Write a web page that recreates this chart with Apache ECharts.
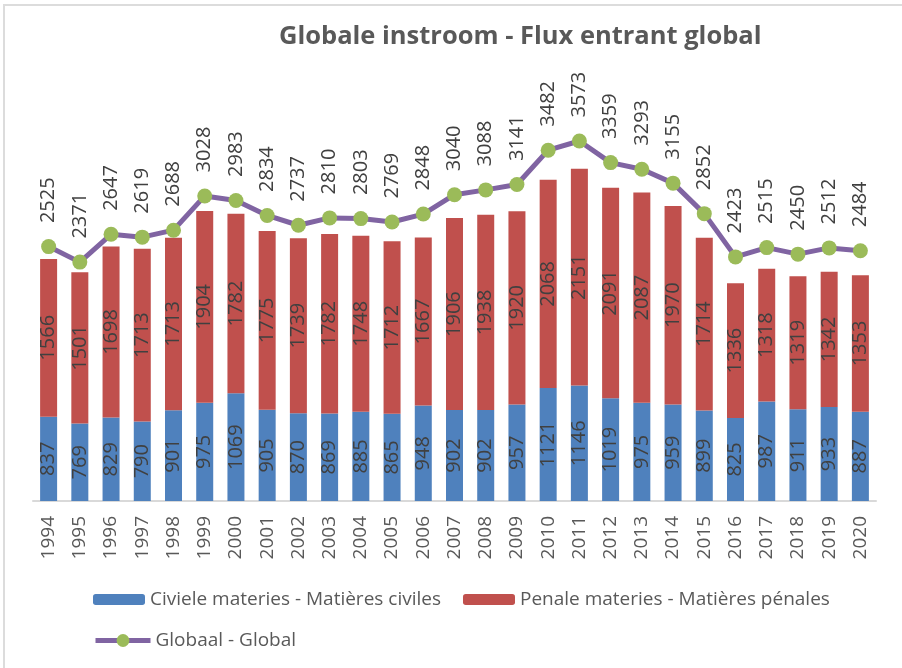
<!DOCTYPE html>
<html>
<head>
<meta charset="utf-8">
<title>Globale instroom - Flux entrant global</title>
<script src="https://cdn.jsdelivr.net/npm/echarts@6/dist/echarts.min.js"></script>
<style>
    html, body { margin: 0; padding: 0; background: #fff; }
    #chart { width: 902px; height: 668px; }
</style>
</head>
<body>
<div id="chart"></div>
<script>
    // data
    const years = ['1994', '1995', '1996', '1997', '1998', '1999', '2000', '2001', '2002', '2003',
        '2004', '2005', '2006', '2007', '2008', '2009', '2010', '2011', '2012', '2013',
        '2014', '2015', '2016', '2017', '2018', '2019', '2020'];
    const civiles = [837, 769, 829, 790, 901, 975, 1069, 905, 870, 869,
        885, 865, 948, 902, 902, 957, 1121, 1146, 1019, 975,
        959, 899, 825, 987, 911, 933, 887];
    const penales = [1566, 1501, 1698, 1713, 1713, 1904, 1782, 1775, 1739, 1782,
        1748, 1712, 1667, 1906, 1938, 1920, 2068, 2151, 2091, 2087,
        1970, 1714, 1336, 1318, 1319, 1342, 1353];
    const globaal = [2525, 2371, 2647, 2619, 2688, 3028, 2983, 2834, 2737, 2810,
        2803, 2769, 2848, 3040, 3088, 3141, 3482, 3573, 3359, 3293,
        3155, 2852, 2423, 2515, 2450, 2512, 2484];

    const FONT = '"Open Sans", "Noto Sans", sans-serif';
    const chart = echarts.init(document.getElementById('chart'), null, { renderer: 'canvas' });

    const barLabel = {
        show: true,
        position: 'inside',
        rotate: 90,
        color: '#404040',
        fontSize: 20,
        fontFamily: FONT
    };

    const option = {
        backgroundColor: '#fff',
        animation: false,
        textStyle: { fontFamily: FONT },
        graphic: [{
            type: 'rect',
            shape: { x: 4, y: 5, width: 1000, height: 1000 },
            style: { fill: 'none', stroke: '#dcdcdc', lineWidth: 2 },
            silent: true
        }],
        title: {
            text: 'Globale instroom - Flux entrant global',
            left: 274,
            top: 19,
            textStyle: { fontSize: 25.5, fontWeight: 'bold', color: '#595959', fontFamily: FONT }
        },
        legend: [{
            data: ['Civiele materies - Matières civiles', 'Penale materies - Matières pénales'],
            left: 88,
            top: 585,
            itemWidth: 52,
            itemHeight: 11,
            itemGap: 22,
            textStyle: { fontSize: 19, color: '#595959', fontFamily: FONT }
        }, {
            data: ['Globaal - Global'],
            left: 88,
            top: 626,
            itemWidth: 55,
            itemHeight: 16,
            lineStyle: { width: 5 },
            textStyle: { fontSize: 19, color: '#595959', fontFamily: FONT }
        }],
        grid: { left: 33, right: 26, top: 98, bottom: 167 },
        xAxis: {
            type: 'category',
            data: years,
            axisLine: { lineStyle: { color: '#d9d9d9', width: 2 } },
            axisTick: { show: false },
            axisLabel: {
                rotate: 90,
                interval: 0,
                margin: 15,
                color: '#595959',
                fontSize: 19,
                fontFamily: FONT
            }
        },
        yAxis: {
            type: 'value',
            min: 0,
            max: 4000,
            show: false,
            splitLine: { show: false }
        },
        series: [{
            name: 'Civiele materies - Matières civiles',
            type: 'bar',
            stack: 'total',
            barWidth: 17,
            data: civiles,
            itemStyle: { color: '#4f81bd' },
            label: barLabel
        }, {
            name: 'Penale materies - Matières pénales',
            type: 'bar',
            stack: 'total',
            barWidth: 17,
            data: penales,
            itemStyle: { color: '#c0504d' },
            label: barLabel
        }, {
            name: 'Globaal - Global',
            type: 'line',
            data: globaal,
            symbol: 'circle',
            symbolSize: 15,
            z: 5,
            lineStyle: { color: '#8064a2', width: 5 },
            itemStyle: { color: '#9bbb59' },
            label: {
                show: true,
                position: 'top',
                distance: 16,
                rotate: 90,
                align: 'left',
                verticalAlign: 'middle',
                color: '#404040',
                fontSize: 20,
                fontFamily: FONT
            }
        }]
    };
    chart.setOption(option);

    window.onresize = function () {
        chart.resize();
    };
</script>
</body>
</html>
